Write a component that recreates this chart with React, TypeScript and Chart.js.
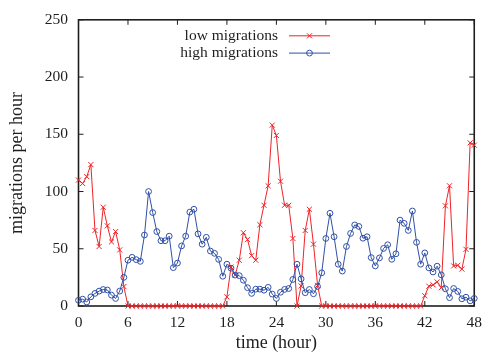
import React, { useEffect, useRef } from "react";
import { Chart, registerables } from "chart.js";

Chart.register(...registerables);

// Sampling interval of the series (hours)
const STEP_HOURS = 0.5;

const SERIES_LABELS = ["low migrations", "high migrations"];

// low migrations per hour, every half hour from 0 to 48
const LOW_MIGRATIONS = [
  110, 107, 113, 123.5, 66, 52, 86.3, 70, 56, 65, 49, 17,
  0, 0, 0, 0, 0, 0, 0, 0, 0, 0, 0, 0, 0, 0, 0, 0, 0, 0, 0, 0, 0, 0, 0, 0,
  8, 34, 27, 40, 64, 58, 44, 40, 71, 88, 105, 158, 149, 109, 88, 88, 59,
  0, 17.5, 66, 84.5, 54, 18,
  0, 0, 0, 0, 0, 0, 0, 0, 0, 0, 0, 0, 0, 0, 0, 0, 0, 0, 0, 0, 0, 0, 0, 0, 0,
  9, 17.3, 18.5, 21, 16, 87.5, 105, 35, 35.5, 32.3, 49.5, 142.5, 140.5,
];

// high migrations per hour, every half hour from 0 to 48
const HIGH_MIGRATIONS = [
  5, 6, 3.5, 8, 11, 13, 14.4, 14, 9.5, 6.6, 13, 25,
  40, 42.5, 40.5, 39, 62, 100, 81.6, 65, 57, 57, 61, 33.5,
  37.5, 52.5, 61, 82, 84.5, 63, 54, 60, 48, 46, 40.7, 26,
  36.5, 33, 27, 26.5, 22.5, 16, 11, 14.7, 14.7, 13.8, 16.3, 10.4,
  6.6, 12, 14.5, 15.3, 23.2, 36.5, 23.7, 11.6, 14.4, 10.7, 17, 29,
  59, 81, 60.5, 36.5, 30.5, 52, 63.4, 70.8, 69.5, 59.2, 60.5, 42.3,
  35, 42, 50.3, 53.5, 40.8, 45.6, 75, 72.2, 66, 83, 55.6, 36.5,
  46.4, 33.3, 29.7, 34.8, 27.2, 15, 7.3, 15.3, 12.7, 6.3, 7.7, 4.5, 6.6,
];

const X_TICKS = [0, 6, 12, 18, 24, 30, 36, 42, 48];
const Y_TICKS = [0, 50, 100, 150, 200, 250];

const RED = "#ee2327";
const BLUE = "#3050a6";
const INK = "#1e1e1e";
const FONT = "'Liberation Serif', 'Times New Roman', serif";

const framePlugin = {
  id: "gpFrame",
  beforeDatasetsDraw(chart: any) {
    const { ctx, chartArea, scales } = chart;
    const { left, right, top, bottom } = chartArea;
    const x = scales.x;
    const y = scales.y;
    ctx.save();
    ctx.strokeStyle = INK;
    ctx.lineWidth = 1;
    ctx.beginPath();
    for (const t of X_TICKS) {
      const px = x.getPixelForValue(t);
      ctx.moveTo(px, bottom);
      ctx.lineTo(px, bottom - 5);
      ctx.moveTo(px, top);
      ctx.lineTo(px, top + 5);
    }
    for (const t of Y_TICKS) {
      const py = y.getPixelForValue(t);
      ctx.moveTo(left, py);
      ctx.lineTo(left + 5, py);
      ctx.moveTo(right, py);
      ctx.lineTo(right - 5, py);
    }
    ctx.stroke();
    ctx.lineWidth = 1.6;
    ctx.strokeRect(left, top, right - left, bottom - top);
    ctx.restore();
  },
};

const legendPlugin = {
  id: "gpLegend",
  afterDraw(chart: any) {
    const { ctx, chartArea } = chart;
    const { left, top } = chartArea;
    ctx.save();
    ctx.font = `15.5px ${FONT}`;
    ctx.textAlign = "right";
    ctx.textBaseline = "middle";
    chart.data.datasets.forEach((ds: any, i: number) => {
      const yPos = top + 16 + i * 17.3;
      ctx.fillStyle = INK;
      ctx.fillText(ds.label, left + 199.5, yPos);
      const x0 = left + 210.5;
      const x1 = left + 251.5;
      const xm = (x0 + x1) / 2;
      ctx.strokeStyle = ds.borderColor;
      ctx.lineWidth = 1;
      ctx.beginPath();
      ctx.moveTo(x0, yPos);
      ctx.lineTo(x1, yPos);
      ctx.stroke();
      ctx.beginPath();
      if (ds.pointStyle === "circle") {
        ctx.arc(xm, yPos, ds.pointRadius, 0, Math.PI * 2);
      } else {
        const d = ds.pointRadius * Math.SQRT1_2;
        ctx.moveTo(xm - d, yPos - d);
        ctx.lineTo(xm + d, yPos + d);
        ctx.moveTo(xm - d, yPos + d);
        ctx.lineTo(xm + d, yPos - d);
      }
      ctx.stroke();
    });
    ctx.restore();
  },
};

export default function App() {
  const canvasRef = useRef<HTMLCanvasElement | null>(null);

  useEffect(() => {
    const canvas = canvasRef.current;
    if (!canvas) return;
    Chart.defaults.font.family = FONT;

    const toPoints = (arr: number[]) =>
      arr.map((v, i) => ({ x: i * STEP_HOURS, y: v }));

    const chart = new Chart(canvas, {
      type: "line",
      data: {
        datasets: [
          {
            label: SERIES_LABELS[0],
            data: toPoints(LOW_MIGRATIONS),
            borderColor: RED,
            backgroundColor: RED,
            borderWidth: 1,
            pointStyle: "crossRot",
            pointRadius: 3.6,
            pointBorderWidth: 1,
            pointBorderColor: RED,
            tension: 0,
            clip: false,
            order: 1,
          },
          {
            label: SERIES_LABELS[1],
            data: toPoints(HIGH_MIGRATIONS),
            borderColor: BLUE,
            backgroundColor: "rgba(0,0,0,0)",
            borderWidth: 1,
            pointStyle: "circle",
            pointRadius: 2.9,
            pointBorderWidth: 1,
            pointBorderColor: BLUE,
            pointBackgroundColor: "rgba(0,0,0,0)",
            tension: 0,
            clip: false,
            order: 0,
          },
        ] as any,
      },
      options: {
        responsive: false,
        animation: false,
        events: [],
        layout: { padding: { left: 0, right: 9.5, top: 17, bottom: 0 } },
        plugins: {
          legend: { display: false },
          tooltip: { enabled: false },
        },
        scales: {
          x: {
            type: "linear",
            min: 0,
            max: 48,
            afterBuildTicks: (scale: any) => {
              scale.ticks = X_TICKS.map((v) => ({ value: v }));
            },
            afterFit: (scale: any) => {
              scale.height = 48;
            },
            grid: { display: false, drawTicks: false },
            border: { display: false },
            ticks: {
              color: INK,
              font: { size: 15.5, family: FONT },
              padding: 8,
              maxRotation: 0,
              autoSkip: false,
            },
            title: {
              display: true,
              text: "time (hour)",
              color: INK,
              font: { size: 18, family: FONT },
              padding: { top: 0, bottom: 0 },
            },
          },
          y: {
            type: "linear",
            min: 0,
            max: 250,
            afterBuildTicks: (scale: any) => {
              scale.ticks = Y_TICKS.map((v) => ({ value: v }));
            },
            afterFit: (scale: any) => {
              scale.width = 78.5;
            },
            grid: { display: false, drawTicks: false },
            border: { display: false },
            ticks: {
              color: INK,
              font: { size: 15.5, family: FONT },
              padding: 10.5,
              autoSkip: false,
            },
            title: {
              display: true,
              text: "migrations per hour",
              color: INK,
              font: { size: 18, family: FONT },
              padding: { top: 6, bottom: 0 },
            },
          },
        },
      } as any,
      plugins: [framePlugin, legendPlugin],
    });

    return () => {
      chart.destroy();
    };
  }, []);

  return (
    <div
      style={{
        position: "absolute",
        left: 0,
        top: 0,
        width: 490,
        height: 354,
        background: "#ffffff",
      }}
    >
      <canvas ref={canvasRef} width={490} height={354} style={{ display: "block" }} />
    </div>
  );
}
